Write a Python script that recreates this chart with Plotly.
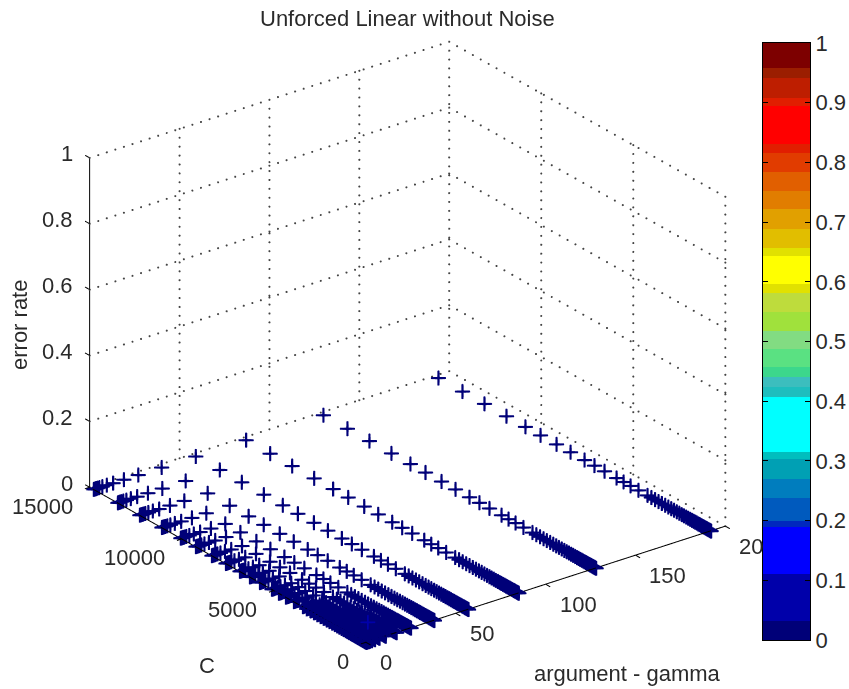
import plotly.graph_objects as go

# ---- data ----
gamma_values = [192, 128, 85, 57, 38, 25, 17, 11, 7.5, 5, 3.3, 2.2, 1.5, 1, 0.6, 0.3]
c_values = [14815, 13510, 12315, 11120, 10090, 9270, 8400, 7640, 6880, 6340, 5795, 5140,
            4760, 4380, 3950, 3460, 3250, 3050, 2860, 2680, 2500, 2330, 2170, 2020, 1870,
            1730, 1600, 1480, 1360, 1250, 1140, 1040, 950, 860, 780, 700, 630, 560, 490,
            430, 370, 320, 270, 230, 190, 150, 120, 90, 65, 45, 30, 15, 5, 1]
error_by_gamma = [0, 0, 0, 0, 0, 0, 0, 0, 0, 0, 0, 0, 0, 0, 0, 0]
outlier_gamma = [1]
outlier_c = [1]
outlier_error = [0.06]

gamma_ticks = [0, 50, 100, 150, 200]
gamma_tick_text = ["0", "50", "100", "150", "20"]
c_ticks = [0, 5000, 10000, 15000]
c_tick_text = ["0", "5000", "10000", "15000"]
z_ticks = [0, 0.2, 0.4, 0.6, 0.8, 1]
z_tick_text = ["0", "0.2", "0.4", "0.6", "0.8", "1"]
bar_ticks = [0, 0.1, 0.2, 0.3, 0.4, 0.5, 0.6, 0.7, 0.8, 0.9, 1]
bar_tick_text = ["0", "0.1", "0.2", "0.3", "0.4", "0.5", "0.6", "0.7", "0.8", "0.9", "1"]

band_edges = [0, 0.032, 0.11, 0.19, 0.2, 0.238, 0.27, 0.304, 0.315, 0.407, 0.424, 0.44, 0.457,
              0.487, 0.517, 0.55, 0.581, 0.596, 0.643, 0.657, 0.689, 0.722, 0.752, 0.784,
              0.815, 0.83, 0.895, 0.908, 0.941, 0.958, 1]
band_colors = ["rgb(0,0,120)", "rgb(0,0,170)", "rgb(0,0,255)", "rgb(0,40,190)", "rgb(0,90,190)",
               "rgb(0,125,190)", "rgb(0,160,180)", "rgb(0,190,190)", "rgb(0,255,255)",
               "rgb(30,190,190)", "rgb(60,190,190)", "rgb(60,215,140)", "rgb(90,225,130)",
               "rgb(130,220,130)", "rgb(160,225,60)", "rgb(190,220,60)", "rgb(225,225,0)",
               "rgb(255,255,0)", "rgb(225,225,0)", "rgb(225,190,0)", "rgb(225,160,0)",
               "rgb(225,125,0)", "rgb(225,95,0)", "rgb(225,60,0)", "rgb(225,30,0)",
               "rgb(255,0,0)", "rgb(225,30,0)", "rgb(190,30,0)", "rgb(155,30,0)", "rgb(125,0,0)"]

# ---- styling ----
W, H = 849, 689
TEXT = "#2a2a2a"
FONT = "Liberation Sans"
TICK_SIZE = 22
LABEL_SIZE = 22
G_MAX, C_MAX, Z_MAX = gamma_ticks[-1], c_ticks[-1], z_ticks[-1]
G_PAD, C_PAD, Z_PAD = 8, 500, 0.05
ASPECT = dict(x=1.425, y=1.425, z=1.171)
EYE = 1.26
EYE_DIR = (-0.547, -0.721, 0.426)
DOT_GAMMA, DOT_C, DOT_Z = 42, 35, 37

def px(x):
    return x / W

def py(y):
    return 1 - y / H

colorscale = []
for i, col in enumerate(band_colors):
    colorscale.append([band_edges[i], col])
    colorscale.append([band_edges[i + 1], col])

# ---- marks ----
xs, ys, zs, cs = [], [], [], []
for g, e in zip(gamma_values, error_by_gamma):
    for c in c_values:
        xs.append(g); ys.append(c); zs.append(e); cs.append(e)

def seg_trace(segs, color, width):
    X, Y, Z = [], [], []
    for a, b in segs:
        X += [a[0], b[0], None]; Y += [a[1], b[1], None]; Z += [a[2], b[2], None]
    return go.Scatter3d(x=X, y=Y, z=Z, mode="lines", hoverinfo="skip", showlegend=False,
                        line=dict(color=color, width=width))

def dotted(a, b, n):
    return [tuple(a[k] + (b[k] - a[k]) * i / n for k in range(3)) for i in range(n + 1)]

grid = []
for z in z_ticks:
    grid += dotted((0, C_MAX, z), (G_MAX, C_MAX, z), DOT_GAMMA)
    grid += dotted((G_MAX, C_MAX, z), (G_MAX, 0, z), DOT_C)
for g in gamma_ticks[1:]:
    grid += dotted((g, C_MAX, 0), (g, C_MAX, Z_MAX), DOT_Z)
for c in c_ticks[:-1]:
    grid += dotted((G_MAX, c, 0), (G_MAX, c, Z_MAX), DOT_Z)

axes = [((0, 0, 0), (G_MAX, 0, 0)), ((0, 0, 0), (0, C_MAX, 0)), ((0, C_MAX, 0), (0, C_MAX, Z_MAX))]
for g in gamma_ticks:
    axes.append(((g, 0, 0), (g, -C_PAD * 0.5, 0)))
for c in c_ticks:
    axes.append(((0, c, 0), (-G_PAD * 0.33, c, 0)))
for z in z_ticks:
    axes.append(((0, C_MAX, z), (0, C_MAX + C_PAD * 0.5, z)))

fig = go.Figure()
fig.add_trace(go.Scatter3d(
    x=[p[0] for p in grid], y=[p[1] for p in grid], z=[p[2] for p in grid],
    mode="markers", hoverinfo="skip", showlegend=False,
    marker=dict(symbol="circle", size=1.2, color="#444444", line=dict(width=0))))
fig.add_trace(seg_trace(axes, "#000000", 2))
fig.add_trace(go.Scatter3d(
    x=xs, y=ys, z=zs, mode="markers", hoverinfo="skip", showlegend=False,
    marker=dict(symbol="cross", size=8, color=cs, cmin=0, cmax=1, colorscale=colorscale,
                showscale=False, line=dict(width=0.6, color=band_colors[0]))))
fig.add_trace(go.Scatter3d(
    x=outlier_gamma, y=outlier_c, z=outlier_error, mode="markers", hoverinfo="skip", showlegend=False,
    marker=dict(symbol="cross", size=8, color=outlier_error, cmin=0, cmax=1, colorscale=colorscale,
                showscale=False, line=dict(width=0))))

# colour bar drawn as a heatmap on its own axes
mids = [(band_edges[i] + band_edges[i + 1]) / 2 for i in range(len(band_colors))]
fig.add_trace(go.Heatmap(x=[0, 1], y=band_edges, z=[[m] for m in mids], zmin=0, zmax=1,
                         colorscale=colorscale, showscale=False, hoverinfo="skip",
                         xaxis="x", yaxis="y"))

def ann3d(x, y, z, text, xanchor, xshift, yshift):
    return dict(x=x, y=y, z=z, text=text, showarrow=False, xanchor=xanchor, yanchor="middle",
                xshift=xshift, yshift=yshift, font=dict(family=FONT, size=TICK_SIZE, color=TEXT))

anns = []
anns += [ann3d(g, 0, 0, t, "left", 12, -20) for g, t in zip(gamma_ticks, gamma_tick_text)]
anns += [ann3d(0, c, 0, t, "right", -15, -19) for c, t in zip(c_ticks, c_tick_text)]
anns += [ann3d(0, C_MAX, z, t, "right", -15, 4) for z, t in zip(z_ticks, z_tick_text)]

def label(text, x, y, angle=0):
    return dict(text=text, x=px(x), y=py(y), xref="paper", yref="paper", textangle=angle,
                showarrow=False, xanchor="center", yanchor="middle",
                font=dict(family=FONT, size=LABEL_SIZE, color=TEXT))

hidden = dict(visible=False, showgrid=False, zeroline=False, showspikes=False,
              showbackground=False, showticklabels=False, title="")
fig.update_layout(
    width=W, height=H, margin=dict(l=0, r=0, t=0, b=0, autoexpand=False),
    paper_bgcolor="white", plot_bgcolor="white", showlegend=False,
    font=dict(family=FONT, color=TEXT),
    scene=dict(
        domain=dict(x=[0, px(407.5) * 2], y=[1 - 342 * 2 / H, 1]),
        bgcolor="rgba(0,0,0,0)",
        xaxis=dict(range=[-G_PAD, G_MAX + G_PAD], **hidden),
        yaxis=dict(range=[-C_PAD, C_MAX + C_PAD], **hidden),
        zaxis=dict(range=[-Z_PAD, Z_MAX + Z_PAD], **hidden),
        aspectmode="manual", aspectratio=ASPECT,
        camera=dict(projection=dict(type="orthographic"),
                    up=dict(x=0, y=0, z=1),
                    center=dict(x=0, y=0, z=0),
                    eye=dict(x=EYE * EYE_DIR[0], y=EYE * EYE_DIR[1], z=EYE * EYE_DIR[2])),
        annotations=anns,
    ),
    xaxis=dict(domain=[px(763), px(810)], range=[0, 1], showticklabels=False, ticks="",
               showline=True, linecolor="black", linewidth=1, mirror=True, showgrid=False,
               zeroline=False, fixedrange=True),
    yaxis=dict(domain=[py(640), py(43)], range=[0, 1], side="right", anchor="x",
               tickvals=bar_ticks, ticktext=bar_tick_text, ticks="inside", ticklen=5,
               tickcolor="black", showline=True, linecolor="black", linewidth=1, mirror="ticks",
               showgrid=False, zeroline=False, fixedrange=True,
               tickfont=dict(family=FONT, size=TICK_SIZE, color=TEXT)),
    annotations=[
        label("Unforced Linear without Noise", 407, 18),
        label("error rate", 19, 325, -90),
        label("C", 207, 665),
        label("argument - gamma", 627, 673),
    ],
)
fig.write_html("out.html", config=dict(displayModeBar=False),
               post_script="document.body.style.margin='0';document.documentElement.style.overflow='hidden';")
